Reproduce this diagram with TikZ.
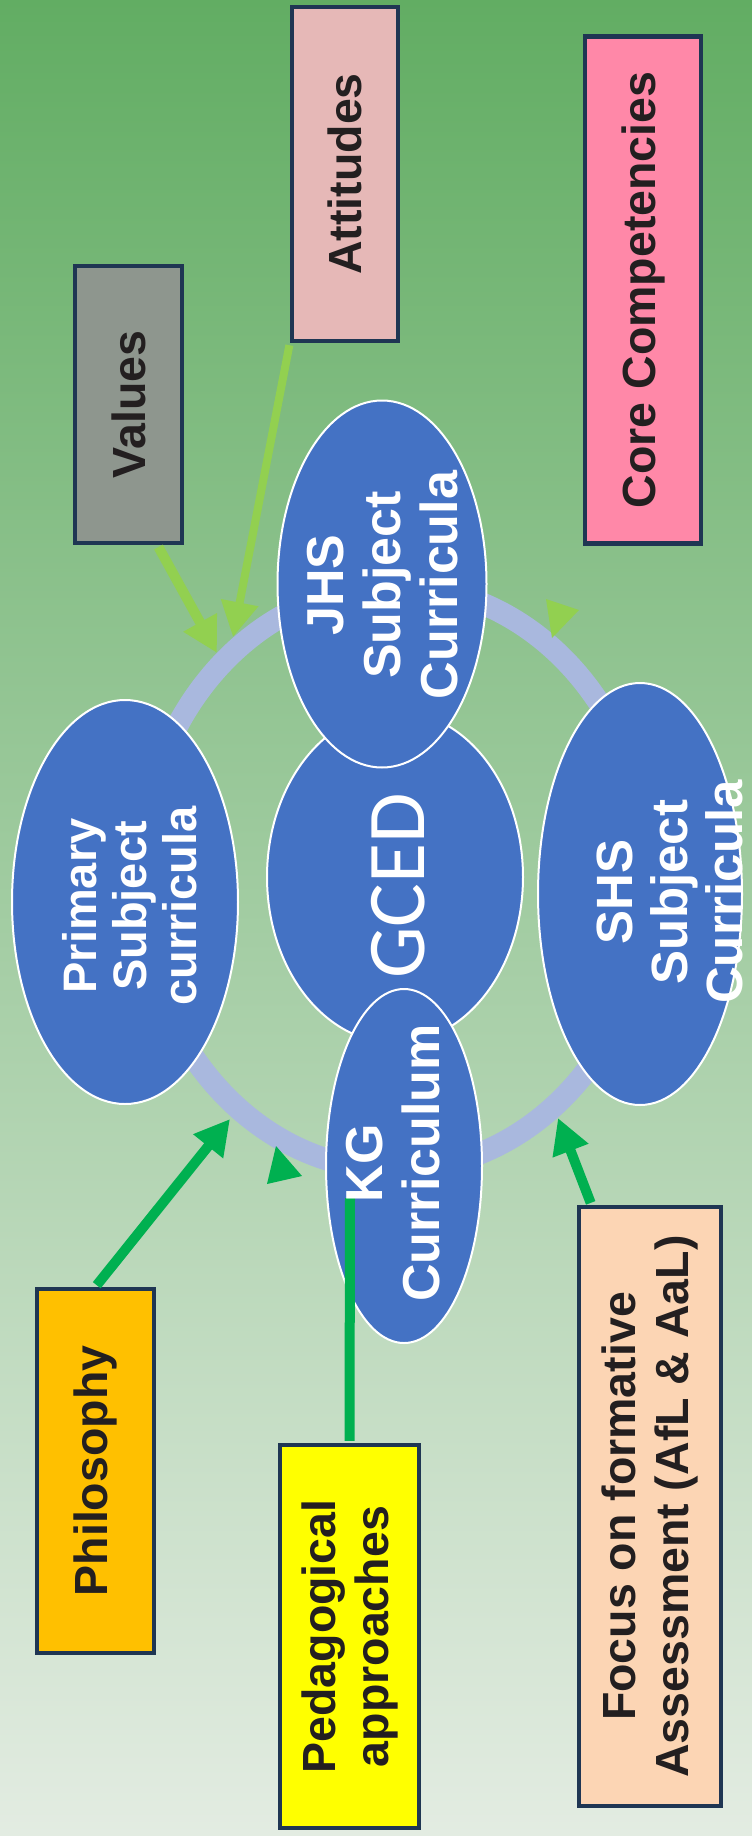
\documentclass[tikz,border=0pt]{standalone}
\usepackage{fontspec}
\setmainfont{Liberation Sans}
\newfontfamily\gcedfont{Carlito}
\usetikzlibrary{shapes.geometric,arrows.meta,calc}

\definecolor{bgtop}{RGB}{98,173,99}
\definecolor{bgbottom}{RGB}{227,236,226}
\definecolor{ringblue}{RGB}{169,184,222}
\definecolor{bubblue}{RGB}{68,114,196}
\definecolor{lightgreen}{RGB}{146,208,80}
\definecolor{darkgreen}{RGB}{0,176,80}
\definecolor{boxline}{RGB}{31,54,83}
\definecolor{boxtext}{RGB}{35,31,32}
\definecolor{valuesgray}{RGB}{142,150,142}
\definecolor{attpink}{RGB}{230,184,183}
\definecolor{corepink}{RGB}{255,136,168}
\definecolor{philorange}{RGB}{255,192,0}
\definecolor{pedyellow}{RGB}{255,255,0}
\definecolor{focuspeach}{RGB}{252,213,180}

\tikzset{
  bubble/.style={ellipse, fill=bubblue, draw=white, line width=2pt, inner sep=0pt},
  bubtext/.style={rotate=90, text=white, align=center, inner sep=0pt,
    font=\bfseries\fontsize{52}{57}\selectfont},
  infobox/.style={rectangle, rotate=90, draw=boxline, line width=4.5pt, text=boxtext,
    align=center, inner sep=0pt, font=\bfseries\fontsize{46.5}{53}\selectfont},
  feed/.style={line width=10pt, shorten <=2pt, -{Triangle[length=35pt,width=36pt]}},
}

\begin{document}
\begin{tikzpicture}[x=1pt, y=-1pt]  % one unit is one pixel of the picture, y grows downwards
    % Background
    \shade[top color=bgtop, bottom color=bgbottom] (0,0) rectangle (752,1836);
    \useasboundingbox (0,0) rectangle (752,1836);

    % Draw the cycle ring and its arrowheads
    \draw[ringblue, line width=22pt] (395,878) ellipse [x radius=255pt, y radius=292pt];
    \fill[lightgreen] (546,599) -- (579,610) -- (552,638) -- cycle;
    \fill[darkgreen] (276,1146) -- (302,1176) -- (267,1184) -- cycle;

    % Curriculum bubbles
    \node[bubble, minimum width=256pt, minimum height=332pt] (gced) at (395,877) {};
    \node[bubble, minimum width=209pt, minimum height=367pt] (jhs) at (382,584) {};
    \node[bubble, minimum width=156pt, minimum height=354pt] (kg) at (404,1166) {};
    \node[bubble, minimum width=226pt, minimum height=404pt] (primary) at (125,902) {};
    \node[bubble, minimum width=204pt, minimum height=422pt] (shs) at (640,894) {};

    \node[bubtext, font=\gcedfont\fontsize{82}{82}\selectfont] (gcedtext) at (398,886) {GCED};
    \node[bubtext] (jhstext) at (383,585) {JHS\\Subject\\Curricula};
    \node[bubtext, font=\bfseries\fontsize{47}{50}\selectfont] (primarytext) at (130,906) {Primary\\Subject\\curricula};
    \node[bubtext, font=\bfseries\fontsize{51}{55}\selectfont] (shstext) at (670,892) {SHS\\Subject\\Curricula};

    % Boxes round the cycle
    \node[infobox, fill=valuesgray, minimum width=277pt, minimum height=107pt] (values) at (128.5,404.5) {Values};
    \node[infobox, fill=attpink, minimum width=334pt, minimum height=106pt] (attitudes) at (345,174) {Attitudes};
    \node[infobox, fill=corepink, minimum width=507pt, minimum height=116pt] (core) at (643,290) {Core Competencies};
    \node[infobox, fill=philorange, minimum width=364pt, minimum height=117pt] (philo) at (95.5,1471) {Philosophy};
    \node[infobox, fill=pedyellow, minimum width=383pt, minimum height=139pt] (peda) at (349.5,1636.5) {Pedagogical\\approaches};
    \node[infobox, fill=focuspeach, minimum width=599pt, minimum height=142pt] (focus) at (650,1506.5) {Focus on formative\\Assessment (AfL \& AaL)};

    % Free ends of the connectors
    \coordinate (valtip) at (217,653);
    \coordinate (atttip) at (233,637);
    \coordinate (philtip) at (230,1119);
    \coordinate (focustip) at (558,1118);
    \coordinate (kgfoot) at (350,1198);

    % Connectors
    \draw[feed, lightgreen] ($(values.north west)!0.76!(values.south west)$) -- (valtip);
    \draw[feed, lightgreen, line width=8pt] (attitudes.north west) -- (atttip);
    \draw[feed, darkgreen] (philo.east) -- (philtip);
    \draw[feed, darkgreen] ($(focus.north east)!0.1!(focus.south east)$) -- (focustip);
    \draw[darkgreen, line width=10pt, shorten <=2pt] (peda.east) -- (kgfoot);

    % KG text goes over the line
    \node[bubtext] (kgtext) at (393,1163) {KG\\Curriculum};
\end{tikzpicture}
\end{document}
